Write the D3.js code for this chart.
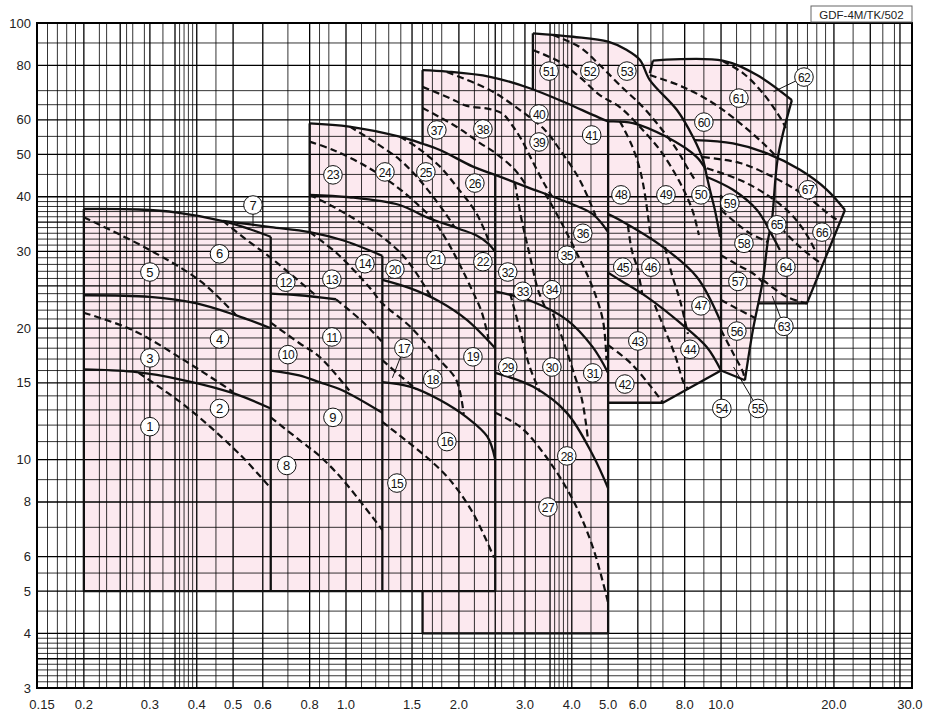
<!DOCTYPE html>
<html><head><meta charset="utf-8">
<script src="https://cdn.jsdelivr.net/npm/d3@7/dist/d3.min.js"></script>
<style>
html,body{margin:0;padding:0;background:#fff;}
svg text{font-family:"Liberation Sans",Arial,Helvetica,sans-serif;}
</style></head><body>
<svg id="chart" width="938" height="720"></svg>
<script>
// ---------- axis ticks ----------
const xTickValues=[0.15,0.2,0.3,0.4,0.5,0.6,0.8,1.0,1.5,2.0,3.0,4.0,5.0,6.0,8.0,10.0,20.0,30.0];
const xTickLabels=["0.15","0.2","0.3","0.4","0.5","0.6","0.8","1.0","1.5","2.0","3.0","4.0","5.0","6.0","8.0","10.0","20.0","30.0"];
const yTickValues=[3,4,5,6,8,10,15,20,30,40,50,60,80,100];
const yTickLabels=["3","4","5","6","8","10","15","20","30","40","50","60","80","100"];
// ---------- grid ----------
const xGridMajor=[0.2,0.25,0.3,0.35,0.4,0.5,0.6,0.8,1,1.5,2,2.5,3,3.5,4,5,6,8,10,15,20,25,30];
const xGridMinor=[0.16,0.17,0.18,0.19,0.22,0.23,0.26,0.27,0.29,0.325,0.36,0.37,0.38,0.39,0.45,0.7,0.85,0.9,1.1,1.2,1.3,1.4,1.6,1.7,1.8,2.2,2.4,2.6,2.8,3.2,3.6,3.7,3.8,3.9,4.5,6.5,7,9,11,12,13,14,16,17,18,19,22.5,27,29];
const yGridMajor=[3.5,4,5,6,8,10,15,20,25,30,35,40,50,60,80];
const yGridMinor=[3.1,3.2,3.3,3.4,3.6,3.7,3.8,3.9,4.5,5.5,7,9,11,12,13,14,16,17,18,19,21,22,23,24,26,27,28,29,31,32,33,34,36,37,38,39,45,55,65,70,90];
// ---------- curves (flow, head) ----------
const aTop=[[0.2,37.5],[0.28,37.4],[0.355,36.8],[0.47,35.2],[0.555,33.7],[0.63,32.4]];
const aMid=[[0.2,23.8],[0.3,23.6],[0.4,22.8],[0.51,21.4],[0.63,20.0]];
const aLow=[[0.2,16.1],[0.27,15.9],[0.37,15.2],[0.5,14.2],[0.63,13.1]];
const aDash1=[[0.2,35.9],[0.3,30.2],[0.41,25.6],[0.51,21.4]];
const aDash2=[[0.2,21.7],[0.27,19.8],[0.37,16.9],[0.5,14.3]];
const aDash3=[[0.28,15.8],[0.376,13.2],[0.52,10.3],[0.63,8.6]];
const bTop=[[0.47,35.2],[0.63,34.1],[0.8,33.2],[0.98,31.8],[1.25,29.3]];
const bSolid1=[[0.63,24.0],[0.75,23.8],[0.94,23.3]];
const bDash1=[[0.47,35.2],[0.54,32.0],[0.63,29.0],[0.835,23.7]];
const bDash1b=[[0.94,23.3],[1.1,20.8],[1.25,18.6]];
const bDash2=[[0.63,20.6],[0.75,18.5],[0.85,17.2],[1.02,14.4]];
const bSolid2=[[0.63,16.0],[0.75,15.6],[0.85,15.05],[0.98,14.4],[1.25,12.8]];
const bDash3=[[0.63,12.5],[0.75,11.1],[0.85,10.2],[0.98,9.0],[1.25,6.9]];
const bDash4=[[0.8,33.2],[0.945,29.7],[1.16,24.7],[1.25,22.8],[1.48,20.2],[1.78,16.9],[1.97,15.2],[2.06,12.7]];
const dTop=[[0.8,58.9],[1.02,57.9],[1.39,54.9],[1.6,52.9],[1.78,51.2],[2.18,46.9],[2.5,44.9]];
const dDash1=[[0.8,53.5],[0.924,51.2],[1.135,46.9],[1.364,42.2],[1.543,38.6],[1.708,35.4],[1.855,31.8],[2.013,27.9],[2.166,24.5],[2.3,21.8],[2.4,18.9]];
const dDash2=[[1.024,57.9],[1.207,53.0],[1.392,48.6],[1.543,44.5],[1.708,40.0],[1.892,35.4],[1.95,34.0]];
const dDash3=[[1.392,54.9],[1.543,52.0],[1.78,46.9],[1.972,42.2],[2.23,36.6],[2.42,31.2]];
const cTop=[[0.8,40.4],[1.02,39.9],[1.39,38.3],[1.64,35.9],[2.0,33.8],[2.23,32.6],[2.4,31.2],[2.5,29.9]];
const cdDash1=[[0.8,40.4],[0.923,38.0],[1.135,34.2],[1.283,31.8],[1.436,29.0],[1.574,26.0],[1.694,23.4]];
const cSolid1=[[1.25,25.8],[1.48,24.7],[1.78,23.0],[2.1,20.9],[2.5,18.0]];
const cShort=[[1.25,16.9],[1.39,15.6],[1.54,14.5]];
const cSolid2=[[1.25,15.05],[1.48,14.7],[1.78,13.7],[2.1,12.5],[2.38,11.3],[2.5,10.0]];
const cDashLow=[[1.25,12.2],[1.67,10.0],[1.89,9.0],[2.18,7.55],[2.48,5.97]];
const eTop=[[2.5,44.9],[3.04,42.1],[3.88,38.9],[4.55,36.5],[5.0,33.2]];
const eSolid1=[[2.5,24.3],[3.15,23.0],[3.88,20.9],[4.55,18.1],[5.0,15.8]];
const eSolid2=[[2.5,15.8],[3.15,14.7],[3.88,12.8],[4.55,10.25],[5.0,8.6]];
const eDash1=[[2.82,43.1],[2.94,35.4],[3.09,29.4],[3.25,24.5],[3.39,22.4]];
const eDash2=[[3.39,40.8],[3.72,35.4],[4.15,29.4],[4.52,25.1],[4.84,20.9],[4.95,16.9]];
const eDash3=[[2.74,24.0],[2.91,19.8],[3.09,16.3],[3.29,14.3]];
const eDash4=[[3.56,21.6],[3.79,18.8],[4.03,16.0],[4.26,13.7],[4.42,11.1]];
const eDashLow=[[2.5,12.8],[2.91,11.9],[3.39,10.25],[4.03,8.08],[4.55,6.31],[5.0,4.7]];
const gTop=[[1.6,78],[1.86,77.4],[2.42,75.3],[3.09,70.9],[3.88,65.5],[4.55,61.6],[5.0,59.5]];
const gDash0=[[1.858,77.2],[2.42,70.2],[2.91,63.2],[3.39,56.9],[3.72,51.2],[4.2,43.7],[4.63,36.2]];
const gDash1=[[1.6,71.4],[1.892,67.3],[2.1,64.6],[2.42,63.5],[2.62,61.9],[2.77,58.4],[2.94,54.0],[3.13,48.6],[3.39,42.6],[3.54,40.1]];
const gDash2=[[1.6,63.9],[1.975,57.8],[2.276,53.1],[2.5,50.4],[2.82,46.1],[3.04,42.2]];
const hTop=[[3.15,94.7],[4.03,93.0],[5.0,90.6],[5.61,86.7],[6.08,82.3],[6.46,74.0],[7.63,63.2],[8.42,54.8],[8.95,48.6],[9.17,44.4],[9.34,41.5],[9.63,37.3],[9.94,32.4]];
const hDash1=[[3.15,86.7],[3.72,81.4],[4.2,75.2],[4.75,68.4],[5.37,64.2],[6.08,57.8],[6.87,51.2],[7.63,44.4],[8.11,40.0],[8.42,36.9],[8.73,32.7]];
const hDash2=[[3.56,93.9],[4.2,88.1],[4.75,80.1],[5.37,72.1],[6.19,64.2],[6.87,57.8],[7.63,51.2],[8.11,46.8],[8.52,43.7]];
const fTop=[[5.0,59.5],[5.82,59.0],[7.17,54.8],[8.62,49.3],[9.11,46.1]];
const fSolid1=[[5.0,36.5],[5.37,35.4],[7.0,30.7],[8.62,26.2],[10.0,20.6]];
const fSolid2=[[5.0,26.8],[5.37,25.8],[6.34,23.6],[7.77,20.6],[9.17,18.1],[10.0,16.0]];
const fDash48=[[5.37,59.6],[5.78,52.5],[6.08,46.1],[6.27,40.4],[6.5,32.0]];
const fDash45=[[5.645,34.4],[5.78,30.2],[5.97,27.6],[6.17,23.9]];
const fDash46=[[7.09,30.7],[7.4,26.5],[7.77,23.2],[8.16,19.4]];
const fDash43=[[6.66,22.6],[7.09,19.8],[7.53,17.4],[8.01,14.8],[8.2,14.5]];
const fDash42=[[5.0,18.3],[5.715,16.7],[6.46,14.8],[7.0,13.5]];
const iDash1=[[10,37.3],[10.9,35.0],[11.94,33.0],[13.34,31.5]];
const iDash2=[[10,29.4],[11.09,27.9],[12.32,26.5],[12.88,25.5]];
const iDash3=[[10,23.2],[11.23,22.0],[12.32,21.1]];
const iDash4=[[10,19.8],[10.78,17.5],[11.46,15.8],[11.55,15.3]];
const jTop=[[6.58,82],[10.1,82],[12.47,76],[15.45,66.6]];
const jDash1=[[6.46,76.0],[7.91,71.4],[9.51,65.6],[11.23,59.0],[12.93,53.1],[14.09,49.3]];
const jDash2=[[10.1,81.8],[11.44,76.8],[12.93,69.1],[14.35,60.9],[14.89,57.5]];
const steep=[[15.45,66.6],[14.18,49.3],[13.67,35.4],[13.34,31.8],[12.93,25.8],[12.16,19.8],[11.58,15.2]];
const kTop=[[8.5,53.9],[10.76,53],[13.26,50.3],[16.24,46.1],[19.16,41.5],[21.4,37.3]];
const kSolid=[[9.17,44.4],[10.76,41.5],[12.47,37.3],[13.75,32.4],[14.35,30.2]];
const kDash1=[[8.95,49.3],[11.23,47.8],[13.75,44.4],[16.94,40.0],[19.88,35.9],[20.9,35.0]];
const kDash2=[[9.17,46.5],[11.23,43.7],[13.26,40.4],[15.27,36.7],[16.75,33.2],[17.8,30.2]];
const kDash3=[[13.75,35.4],[16.24,30.7],[18.7,27.9]];
const kDash4=[[12.93,25.8],[14.98,23.6],[16.94,22.8]];
// straight outline edges
const edges=[
 [[0.2,5],[0.2,37.5]],[[0.63,5],[0.63,32.4]],[[0.2,5],[2.5,5]],[[1.25,5],[1.25,29.3]],
 [[0.8,33.2],[0.8,58.9]],[[2.5,5],[2.5,44.9]],[[1.6,5],[1.6,4],[5,4],[5,59.5]],
 [[1.6,52.9],[1.6,78]],[[3.15,70.5],[3.15,94.7]],[[5,13.5],[7,13.5],[10,16],[11.58,15.2]],
 [[10,16],[10,40.4]],[[6.46,76.7],[6.58,82]],[[21.4,37.3],[16.94,22.8],[12.54,22.8]]
];
const solidCurves=[aTop,aMid,aLow,bTop,bSolid1,bSolid2,dTop,cTop,cSolid1,cSolid2,eTop,eSolid1,eSolid2,gTop,fTop,fSolid1,fSolid2,hTop,jTop,steep,kTop,kSolid];
const dashedCurves=[aDash1,aDash2,aDash3,bDash1,bDash1b,bDash2,bDash3,bDash4,dDash1,dDash2,dDash3,cdDash1,cShort,cDashLow,
 eDash1,eDash2,eDash3,eDash4,eDashLow,gDash0,gDash1,gDash2,hDash1,hDash2,fDash48,fDash45,fDash46,fDash43,fDash42,
 iDash1,iDash2,iDash3,iDash4,jDash1,jDash2,kDash1,kDash2,kDash3,kDash4];
// circled model numbers [no, flow, head]
const labels=[[1,0.30,11.9],[2,0.46,13.1],[3,0.30,17.1],[4,0.46,18.9],[5,0.30,26.9],[6,0.46,29.6],[7,0.565,38.3],[8,0.695,9.7],
[9,0.923,12.5],[10,0.70,17.4],[11,0.917,19.1],[12,0.691,25.5],[13,0.917,25.9],[14,1.123,28.1],
[15,1.367,8.84],[16,1.858,11.0],[17,1.427,18.0],[18,1.704,15.3],[19,2.18,17.2],[20,1.35,27.3],[21,1.737,28.7],[22,2.318,28.4],
[23,0.923,44.9],[24,1.27,45.6],[25,1.633,45.6],[26,2.206,43.0],
[27,3.455,7.79],[28,3.88,10.2],[29,2.70,16.3],[30,3.54,16.3],[31,4.55,15.8],[32,2.70,26.9],[33,2.96,24.3],[34,3.54,24.5],[35,3.88,29.4],[36,4.28,33.0],
[37,1.747,56.9],[38,2.318,57.2],[39,3.27,53.4],[40,3.27,61.9],[41,4.52,55.4],
[42,5.54,14.9],[43,6.0,18.7],[44,8.26,17.9],[45,5.47,27.6],[46,6.50,27.6],[47,8.84,22.5],[48,5.41,40.4],[49,7.13,40.4],[50,8.84,40.4],
[51,3.48,77.6],[52,4.47,77.6],[53,5.61,77.6],
[54,10.05,13.1],[55,12.54,13.1],[56,11.02,19.7],[57,11.09,25.6],[58,11.51,31.3],[59,10.56,38.7],
[60,9.0,59.3],[61,11.16,67.3],[62,16.64,75.2],[63,14.71,20.2],[64,14.89,27.6],[65,14.09,34.5],[66,18.58,33.2],[67,17.05,41.5]];
const leaders=[[7,0.565,34.2],[17,1.33,15.4],[54,10.0,15.8],[55,10.8,16.3],[62,13.8,69.6],[63,13.7,23.7]];
const titleText="GDF-4M/TK/502";

// ---------- drawing ----------
const svg=d3.select("#chart");
const L=37,R=912,T=23,B=688;
const x=d3.scaleLog().domain([0.15,32.3]).range([L,R]);
const y=d3.scaleLog().domain([3,100]).range([B,T]);
const smooth=d3.line().x(d=>x(d[0])).y(d=>y(d[1])).curve(d3.curveCatmullRom.alpha(0.5));
const straight=d3.line().x(d=>x(d[0])).y(d=>y(d[1]));
function piecePath(pieces){
  let s="";
  pieces.forEach((p,i)=>{
    const pts=p.rev?p.pts.slice().reverse():p.pts;
    let d=(p.s?smooth:straight)(pts);
    if(i>0) d="L"+d.slice(1);
    s+=d;
  });
  return s+"Z";
}
const fills=[
 [{pts:[[0.2,5],[0.2,37.5]]},{pts:aTop,s:1},{pts:[[0.63,32.4],[0.63,5]]}],
 [{pts:[[0.63,5],[0.63,32.4],[0.47,35.2]]},{pts:bTop,s:1},{pts:[[1.25,29.3],[1.25,5]]}],
 [{pts:[[0.8,33.2],[0.8,58.9]]},{pts:dTop,s:1},{pts:[[2.5,44.9],[2.5,5],[1.25,5],[1.25,29.3]]},{pts:bTop.slice(2),s:1,rev:1}],
 [{pts:[[1.6,5],[1.6,4],[5,4],[5,33.2]]},{pts:eTop,s:1,rev:1},{pts:[[2.5,44.9],[2.5,5]]}],
 [{pts:[[1.6,52.9],[1.6,78]]},{pts:gTop,s:1},{pts:[[5,59.5],[5,33.2]]},{pts:eTop,s:1,rev:1},{pts:dTop.filter(p=>p[0]>=1.6),s:1,rev:1}],
 [{pts:[[3.15,70.5],[3.15,94.7]]},{pts:hTop.slice(0,5),s:1},{pts:[[6.46,76.7]]},{pts:jTop,s:1},{pts:steep,s:1},
  {pts:[[10,16],[7,13.5],[5,13.5],[5,59.5]]},{pts:gTop.filter(p=>p[0]>=3.09),s:1,rev:1}],
 [{pts:kTop,s:1},{pts:[[16.94,22.8],[12.54,22.8]]},{pts:steep.slice(1,5),s:1,rev:1}]
];
svg.append("g").selectAll("path").data(fills).join("path")
  .attr("d",piecePath).attr("fill","#fce9ef").attr("stroke","none");

// grid
const grid=svg.append("g").attr("stroke","#000").attr("fill","none");
grid.selectAll("line.xm").data(xGridMinor).join("line").attr("class","xm")
  .attr("x1",d=>x(d)).attr("x2",d=>x(d)).attr("y1",T).attr("y2",B).attr("stroke-width",0.8);
grid.selectAll("line.ym").data(yGridMinor).join("line").attr("class","ym")
  .attr("y1",d=>y(d)).attr("y2",d=>y(d)).attr("x1",L).attr("x2",R).attr("stroke-width",0.8);
grid.selectAll("line.xM").data(xGridMajor).join("line").attr("class","xM")
  .attr("x1",d=>x(d)).attr("x2",d=>x(d)).attr("y1",T).attr("y2",B).attr("stroke-width",1.3);
grid.selectAll("line.yM").data(yGridMajor).join("line").attr("class","yM")
  .attr("y1",d=>y(d)).attr("y2",d=>y(d)).attr("x1",L).attr("x2",R).attr("stroke-width",1.3);
svg.append("rect").attr("x",L).attr("y",T).attr("width",R-L).attr("height",B-T)
  .attr("fill","none").attr("stroke","#000").attr("stroke-width",2);

// axis labels
const xShift=xTickValues.map((d,i)=>i===0?5:(i===xTickValues.length-1?10:0));
svg.append("g").selectAll("text").data(xTickValues).join("text")
  .attr("x",(d,i)=>x(d)+xShift[i]).attr("y",709).attr("text-anchor","middle").attr("font-size",13).attr("fill","#222")
  .text((d,i)=>xTickLabels[i]);
svg.append("g").selectAll("text").data(yTickValues).join("text")
  .attr("x",31).attr("y",d=>y(d)+4.5).attr("text-anchor","end").attr("font-size",13).attr("fill","#222")
  .text((d,i)=>yTickLabels[i]);

// curves
const curves=svg.append("g").attr("fill","none").attr("stroke","#111").attr("stroke-linejoin","round");
curves.selectAll("path.e").data(edges).join("path").attr("class","e").attr("d",straight).attr("stroke-width",2.3);
curves.selectAll("path.s").data(solidCurves).join("path").attr("class","s").attr("d",smooth).attr("stroke-width",2.3);
curves.selectAll("path.d").data(dashedCurves).join("path").attr("class","d").attr("d",smooth)
  .attr("stroke-width",2.2).attr("stroke-dasharray","7,4");

// leaders
const lab=new Map(labels.map(d=>[d[0],d]));
svg.append("g").selectAll("line").data(leaders).join("line")
  .attr("x1",d=>x(lab.get(d[0])[1])).attr("y1",d=>y(lab.get(d[0])[2]))
  .attr("x2",d=>x(d[1])).attr("y2",d=>y(d[2])).attr("stroke","#111").attr("stroke-width",1);
// circled numbers
const lg=svg.append("g").selectAll("g").data(labels).join("g")
  .attr("transform",d=>`translate(${x(d[1])},${y(d[2])})`);
lg.append("circle").attr("r",9.3).attr("fill","#fff").attr("stroke","#111").attr("stroke-width",1);
lg.append("text").attr("text-anchor","middle").attr("y",4.6).attr("font-size",d=>d[0]>9?12:13)
  .attr("letter-spacing",d=>d[0]>9?-0.6:0).attr("fill","#111").text(d=>d[0]);

// title box
svg.append("rect").attr("x",811).attr("y",6).attr("width",101).attr("height",16).attr("fill","#fff").attr("stroke","#666").attr("stroke-width",1);
svg.append("text").attr("x",861.5).attr("y",18.5).attr("text-anchor","middle").attr("font-size",11.5).attr("fill","#222").text(titleText);
</script></body></html>
